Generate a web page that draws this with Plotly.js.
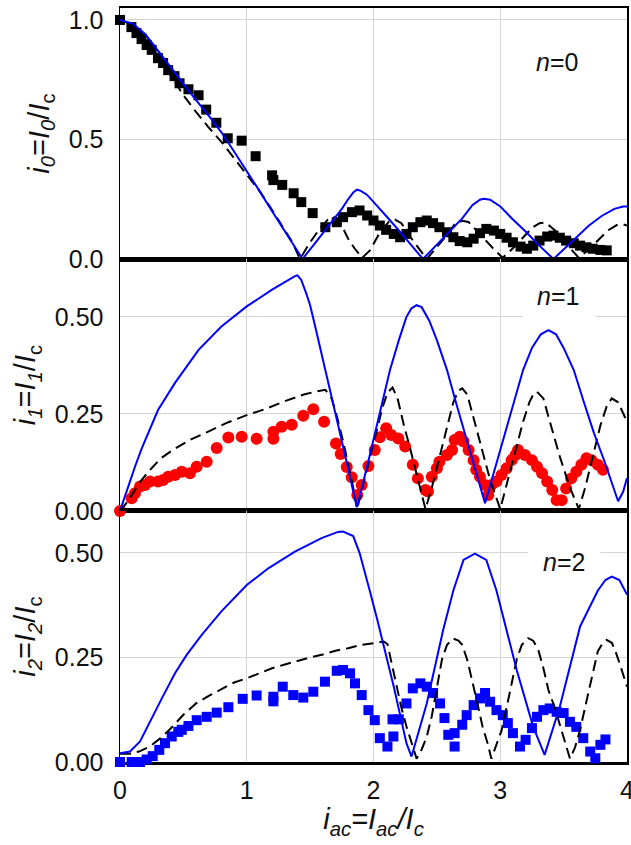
<!DOCTYPE html>
<html>
<head>
<meta charset="utf-8">
<script src="https://cdn.plot.ly/plotly-3.0.1.min.js"></script>
<style>html,body{margin:0;padding:0;background:#fff;}#plot{width:631px;height:845px;}</style>
</head>
<body>
<div id="plot"></div>
<script>
// ---------- Panel n=0 ----------
const sq0x = [0,0.09,0.13,0.17,0.21,0.25,0.30,0.34,0.38,0.43,0.47,0.54,0.62,0.68,0.76,0.85,0.96,1.07,1.20,1.21,1.28,1.37,1.43,1.52,1.62,1.71,1.76,1.83,1.89,1.95,2.00,2.05,2.10,2.16,2.21,2.26,2.31,2.37,2.42,2.47,2.52,2.58,2.63,2.68,2.74,2.79,2.84,2.89,2.95,3.00,3.05,3.10,3.16,3.21,3.26,3.31,3.37,3.42,3.47,3.52,3.58,3.63,3.68,3.73,3.79,3.84];
const sq0y = [1.0,0.97,0.945,0.92,0.895,0.875,0.84,0.82,0.79,0.765,0.735,0.71,0.685,0.625,0.57,0.505,0.495,0.43,0.35,0.33,0.31,0.275,0.238,0.192,0.133,0.154,0.175,0.196,0.203,0.182,0.161,0.14,0.122,0.105,0.091,0.105,0.133,0.154,0.161,0.15,0.133,0.112,0.091,0.075,0.07,0.085,0.108,0.126,0.119,0.105,0.089,0.07,0.052,0.043,0.056,0.077,0.094,0.098,0.089,0.077,0.066,0.056,0.049,0.043,0.038,0.036];
const b0x = [0,0.1,0.2,0.3,0.4,0.5,0.6,0.7,0.8,0.9,1.0,1.1,1.2,1.3,1.38,1.44,1.55,1.65,1.75,1.8,1.84,1.87,1.9,1.95,2.0,2.1,2.2,2.3,2.39,2.5,2.6,2.7,2.78,2.84,2.87,2.92,3.0,3.1,3.2,3.3,3.42,3.5,3.6,3.7,3.8,3.9,3.97,4.0];
const b0y = [1,0.985,0.94,0.87,0.8,0.73,0.665,0.6,0.53,0.45,0.37,0.285,0.2,0.115,0.05,0,0.074,0.14,0.21,0.25,0.278,0.29,0.285,0.268,0.24,0.18,0.12,0.055,0,0.06,0.115,0.17,0.225,0.248,0.252,0.248,0.22,0.165,0.115,0.06,0,0.04,0.09,0.14,0.18,0.21,0.22,0.22];
const d0x = [0,0.1,0.2,0.3,0.4,0.5,0.6,0.7,0.8,0.9,1.0,1.1,1.2,1.3,1.36,1.42,1.5,1.58,1.64,1.69,1.74,1.8,1.85,1.91,1.97,2.05,2.12,2.17,2.22,2.28,2.34,2.42,2.5,2.58,2.64,2.7,2.75,2.82,2.9,2.96,3.02,3.1,3.18,3.25,3.31,3.36,3.43,3.5,3.56,3.62,3.7,3.78,3.85,3.92,3.97,4.0];
const d0y = [1,0.98,0.93,0.855,0.77,0.685,0.615,0.55,0.49,0.42,0.355,0.285,0.205,0.12,0.07,0,0.07,0.13,0.165,0.175,0.15,0.085,0.045,0.005,0.035,0.11,0.155,0.165,0.15,0.1,0.055,0,0.05,0.1,0.145,0.16,0.155,0.115,0.065,0.035,0.005,0.045,0.09,0.13,0.15,0.152,0.12,0.08,0.04,0.005,0.04,0.085,0.12,0.142,0.145,0.14];

// ---------- Panel n=1 ----------
const r1x = [0,0.092,0.118,0.158,0.197,0.237,0.30,0.34,0.38,0.434,0.487,0.552,0.605,0.684,0.763,0.855,0.96,1.078,1.21,1.21,1.275,1.355,1.446,1.525,1.61,1.704,1.741,1.789,1.828,1.872,1.907,1.96,2.01,2.05,2.10,2.14,2.196,2.25,2.31,2.35,2.41,2.43,2.46,2.50,2.52,2.58,2.62,2.64,2.68,2.71,2.75,2.79,2.81,2.84,2.88,2.906,2.93,2.97,3.01,3.05,3.09,3.12,3.14,3.195,3.25,3.29,3.33,3.37,3.41,3.445,3.485,3.52,3.56,3.60,3.64,3.68,3.72,3.77,3.81];
const r1y = [0,0.033,0.046,0.063,0.067,0.076,0.076,0.08,0.088,0.093,0.101,0.097,0.114,0.127,0.162,0.189,0.191,0.186,0.204,0.186,0.217,0.222,0.245,0.262,0.23,0.174,0.147,0.113,0.087,0.041,0.067,0.116,0.157,0.19,0.213,0.196,0.187,0.166,0.119,0.084,0.054,0.05,0.088,0.11,0.127,0.144,0.157,0.183,0.191,0.179,0.157,0.131,0.106,0.088,0.067,0.041,0.067,0.076,0.093,0.11,0.131,0.144,0.157,0.144,0.131,0.114,0.097,0.076,0.054,0.028,0.028,0.058,0.084,0.101,0.119,0.136,0.131,0.119,0.106];
const b1x = [0,0.05,0.118,0.17,0.224,0.3,0.434,0.62,0.8,1.0,1.2,1.3,1.38,1.40,1.43,1.47,1.5,1.54,1.58,1.62,1.7,1.75,1.8,1.84,1.87,1.95,2.03,2.13,2.2,2.26,2.3,2.34,2.38,2.44,2.5,2.58,2.65,2.72,2.8,2.88,2.95,3.05,3.18,3.25,3.32,3.38,3.44,3.5,3.58,3.66,3.74,3.82,3.88,3.93,3.97,4.0];
const b1y = [0,0.05,0.114,0.16,0.2,0.26,0.33,0.415,0.475,0.527,0.57,0.59,0.605,0.607,0.595,0.56,0.53,0.475,0.42,0.363,0.25,0.18,0.11,0.05,0.01,0.115,0.225,0.363,0.44,0.5,0.522,0.53,0.525,0.49,0.44,0.363,0.28,0.2,0.11,0.02,0.1,0.215,0.363,0.42,0.455,0.466,0.455,0.42,0.363,0.28,0.2,0.13,0.07,0.025,0.05,0.085];
const d1x = [0,0.05,0.1,0.16,0.24,0.32,0.42,0.55,0.7,0.85,1.0,1.15,1.3,1.45,1.55,1.62,1.67,1.71,1.76,1.8,1.84,1.87,1.92,1.97,2.03,2.07,2.11,2.15,2.19,2.24,2.29,2.35,2.41,2.46,2.52,2.58,2.63,2.67,2.7,2.74,2.79,2.85,2.92,3.0,3.06,3.12,3.18,3.23,3.26,3.29,3.34,3.4,3.47,3.55,3.62,3.67,3.73,3.79,3.84,3.88,3.93,3.98,4.0];
const d1y = [0,0.02,0.045,0.076,0.107,0.135,0.158,0.183,0.205,0.228,0.247,0.263,0.283,0.3,0.308,0.312,0.29,0.245,0.18,0.12,0.06,0.005,0.07,0.135,0.215,0.265,0.305,0.318,0.29,0.22,0.16,0.08,0.005,0.06,0.14,0.22,0.28,0.31,0.316,0.3,0.24,0.165,0.08,0.005,0.08,0.16,0.23,0.28,0.3,0.307,0.29,0.22,0.14,0.06,0.005,0.06,0.14,0.22,0.27,0.29,0.28,0.245,0.23];

// ---------- Panel n=2 ----------
const s2x = [0,0.092,0.158,0.21,0.258,0.31,0.355,0.408,0.46,0.487,0.54,0.605,0.684,0.763,0.855,0.968,1.078,1.21,1.21,1.284,1.367,1.446,1.525,1.617,1.71,1.76,1.815,1.854,1.907,1.96,2.01,2.05,2.11,2.157,2.15,2.20,2.26,2.31,2.37,2.42,2.47,2.525,2.56,2.59,2.64,2.64,2.70,2.735,2.79,2.84,2.88,2.92,2.97,3.02,3.06,3.10,3.156,3.20,3.25,3.29,3.34,3.39,3.445,3.50,3.55,3.60,3.655,3.71,3.75,3.79,3.83];
const s2y = [0,0,0,0.006,0.014,0.029,0.045,0.061,0.072,0.077,0.086,0.1,0.108,0.118,0.131,0.151,0.159,0.156,0.145,0.18,0.16,0.154,0.168,0.192,0.218,0.22,0.212,0.188,0.16,0.124,0.1,0.057,0.037,0.061,0.102,0.102,0.14,0.176,0.188,0.18,0.165,0.14,0.105,0.065,0.069,0.037,0.089,0.112,0.136,0.152,0.165,0.144,0.124,0.112,0.093,0.069,0.037,0.053,0.081,0.108,0.124,0.128,0.12,0.117,0.096,0.084,0.057,0.025,0.009,0.041,0.054];
const b2x = [0,0.079,0.158,0.224,0.33,0.434,0.526,0.645,0.8,1.0,1.17,1.38,1.59,1.72,1.76,1.84,1.89,1.97,2.03,2.16,2.26,2.30,2.42,2.55,2.63,2.71,2.8,2.89,2.97,3.13,3.26,3.35,3.47,3.63,3.77,3.83,3.88,3.94,4.0];
const b2y = [0.021,0.025,0.049,0.089,0.152,0.212,0.256,0.304,0.36,0.423,0.463,0.503,0.535,0.55,0.551,0.54,0.5,0.41,0.34,0.18,0.045,0.013,0.14,0.316,0.41,0.483,0.498,0.483,0.41,0.22,0.084,0.017,0.132,0.324,0.41,0.435,0.443,0.435,0.4];
const d2x = [0,0.08,0.15,0.24,0.32,0.4,0.5,0.6,0.7,0.8,0.9,1.0,1.1,1.2,1.3,1.4,1.5,1.6,1.7,1.8,1.9,2.0,2.08,2.11,2.14,2.18,2.22,2.26,2.30,2.34,2.38,2.42,2.46,2.5,2.54,2.58,2.63,2.67,2.70,2.74,2.78,2.82,2.86,2.9,2.93,2.97,3.01,3.05,3.09,3.13,3.17,3.22,3.26,3.30,3.34,3.38,3.43,3.47,3.51,3.55,3.59,3.63,3.68,3.73,3.77,3.81,3.84,3.88,3.91,3.95,3.98,4.0];
const d2y = [0.02,0.02,0.025,0.038,0.057,0.08,0.113,0.14,0.158,0.175,0.19,0.2,0.212,0.224,0.233,0.242,0.25,0.257,0.266,0.272,0.28,0.284,0.288,0.282,0.24,0.185,0.13,0.085,0.045,0.008,0.03,0.06,0.11,0.18,0.245,0.28,0.295,0.29,0.28,0.244,0.195,0.14,0.085,0.045,0.008,0.04,0.075,0.13,0.19,0.245,0.28,0.296,0.29,0.268,0.225,0.172,0.13,0.09,0.045,0.008,0.035,0.077,0.145,0.215,0.265,0.285,0.292,0.285,0.264,0.228,0.2,0.18];

// ---------- Labels ----------
const xTickVals = [0,1,2,3,4];
const xTickText = ['0','1','2','3','4'];
const y0TickVals = [0,0.5,1.0];
const y0TickText = ['0.0','0.5','1.0'];
const yTickVals = [0,0.25,0.5];
const yTickText = ['0.00','0.25','0.50'];
const panelLabels = ['<i>n</i>=0','<i>n</i>=1','<i>n</i>=2'];
const yTitles = ['<i>i</i><sub><i>0</i></sub>=<i>I</i><sub><i>0</i></sub>/<i>I</i><sub>c</sub>',
                 '<i>i</i><sub><i>1</i></sub>=<i>I</i><sub><i>1</i></sub>/<i>I</i><sub>c</sub>',
                 '<i>i</i><sub><i>2</i></sub>=<i>I</i><sub><i>2</i></sub>/<i>I</i><sub>c</sub>'];
const xTitle = '<i>i<sub>ac</sub>=I<sub>ac</sub>/I<sub>c</sub></i>';

const FONT = 'Arial, "Liberation Sans", sans-serif';
const BLUE = '#0000ff';

function line(x, y, xa, ya, color, dash) {
  return {x: x, y: y, xaxis: xa, yaxis: ya, type: 'scatter', mode: 'lines',
          line: {color: color, width: 2, dash: dash || 'solid'}, hoverinfo: 'skip'};
}
function pts(x, y, xa, ya, color, symbol, size) {
  return {x: x, y: y, xaxis: xa, yaxis: ya, type: 'scatter', mode: 'markers', cliponaxis: false,
          marker: {color: color, symbol: symbol, size: size, line: {width: 0}}, hoverinfo: 'skip'};
}

const DASH = '11px,6px';
const data = [
  line(d0x, d0y, 'x', 'y', '#000', DASH),
  pts(sq0x, sq0y, 'x', 'y', '#000', 'square', 10),
  line(b0x, b0y, 'x', 'y', BLUE),
  pts(r1x, r1y, 'x2', 'y2', '#ff0000', 'circle', 12),
  line(d1x, d1y, 'x2', 'y2', '#000', DASH),
  line(b1x, b1y, 'x2', 'y2', BLUE),
  pts(s2x, s2y, 'x3', 'y3', BLUE, 'square', 10),
  line(d2x, d2y, 'x3', 'y3', '#000', DASH),
  line(b2x, b2y, 'x3', 'y3', BLUE)
];

function xax(anchor, showLabels) {
  const a = {anchor: anchor, range: [0, 4], tickvals: xTickVals, ticktext: xTickText,
    showticklabels: showLabels, ticks: '', showgrid: true, gridcolor: '#d4d4d4', gridwidth: 1,
    zeroline: false, showline: true, mirror: true, linecolor: '#000', linewidth: 2.5,
    tickfont: {family: FONT, size: 25, color: '#111'}, ticklabelstandoff: 4,
    ticklabeloverflow: 'allow', layer: 'below traces'};
  if (showLabels) a.title = {text: xTitle, font: {family: FONT, size: 29, color: '#111'}, standoff: 6};
  return a;
}
function yax(anchor, domain, range, vals, text, title) {
  return {anchor: anchor, domain: domain, range: range, tickvals: vals, ticktext: text,
    ticks: '', showgrid: true, gridcolor: '#d4d4d4', gridwidth: 1, zeroline: false,
    showline: true, mirror: true, linecolor: '#000', linewidth: 1.5,
    tickfont: {family: FONT, size: 25, color: '#111'}, ticklabelstandoff: 10, layer: 'below traces',
    title: {text: title, font: {family: FONT, size: 29, color: '#111'}, standoff: 10}};
}

const layout = {
  width: 631, height: 845,
  margin: {l: 120, r: 4, t: 8, b: 83},
  paper_bgcolor: '#fff', plot_bgcolor: '#fff',
  showlegend: false,
  xaxis: xax('y', false),
  xaxis2: xax('y2', false),
  xaxis3: xax('y3', true),
  yaxis: yax('x', [0.6671, 1], [0, 1.05], y0TickVals, y0TickText, yTitles[0]),
  yaxis2: yax('x2', [0.3329, 0.6671], [0, 0.649], yTickVals, yTickText, yTitles[1]),
  yaxis3: yax('x3', [0, 0.3329], [0, 0.600], yTickVals, yTickText, yTitles[2]),
  shapes: [
    {type: 'rect', xref: 'x2', yref: 'y2', x0: 3.18, x1: 3.75, y0: 0.49, y1: 0.64,
     fillcolor: '#fff', line: {width: 0}, layer: 'between'},
    {type: 'rect', xref: 'x3', yref: 'y3', x0: 3.22, x1: 3.79, y0: 0.455, y1: 0.54,
     fillcolor: '#fff', line: {width: 0}, layer: 'between'}
  ],
  annotations: [
    {xref: 'x', yref: 'y', x: 3.45, y: 0.824, text: panelLabels[0], showarrow: false,
     font: {family: FONT, size: 25, color: '#111'}},
    {xref: 'x2', yref: 'y2', x: 3.455, y: 0.554, text: panelLabels[1], showarrow: false,
     font: {family: FONT, size: 25, color: '#111'}},
    {xref: 'x3', yref: 'y3', x: 3.50, y: 0.478, text: panelLabels[2], showarrow: false,
     font: {family: FONT, size: 25, color: '#111'}}
  ]
};

Plotly.newPlot('plot', data, layout, {staticPlot: true, displayModeBar: false});
</script>
</body>
</html>
